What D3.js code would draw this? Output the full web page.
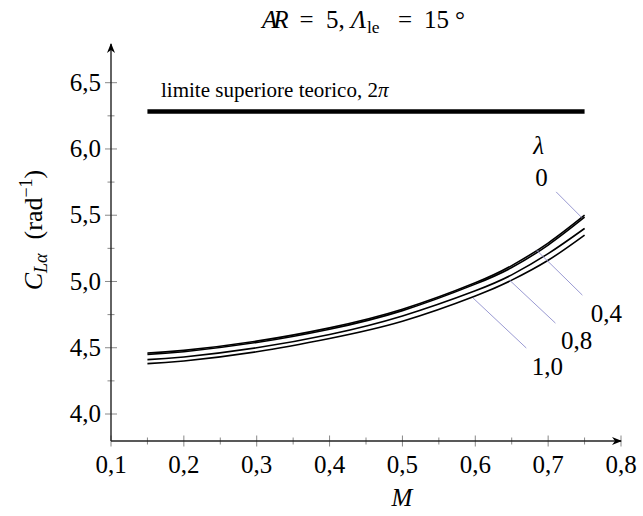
<!DOCTYPE html>
<html><head><meta charset="utf-8">
<script src="https://cdn.jsdelivr.net/npm/d3@7"></script>
<style>body{margin:0;background:#fff}</style>
</head><body><svg id="c" width="643" height="516">
<text id="title" y="28" font-size="25" font-family="Liberation Serif"><tspan x="262" font-style="italic" letter-spacing="-4">AR</tspan><tspan x="299.5">=</tspan><tspan x="326">5,</tspan><tspan x="351" font-style="italic">Λ</tspan><tspan x="367" font-size="17.5" dy="5">le</tspan><tspan x="398" dy="-5">=</tspan><tspan x="424">15</tspan><tspan x="455">°</tspan></text>
<text id="ylab" transform="translate(42,230) rotate(-90)" text-anchor="middle" font-size="26" font-family="Liberation Serif"><tspan font-style="italic">C</tspan><tspan font-style="italic" font-size="18" dy="5">Lα</tspan><tspan dy="-5" dx="14">(rad</tspan><tspan font-size="18" dy="-10">−1</tspan><tspan dy="10">)</tspan></text>
<text id="xlab" x="402" y="506" text-anchor="middle" font-size="25" font-style="italic" font-family="Liberation Serif">M</text>
</svg>
<script>
const machValues = [0.15, 0.2, 0.3, 0.4, 0.5, 0.6, 0.65, 0.7, 0.75];
const taperRatios = ["0", "0,4", "0,8", "1,0"];
const clAlpha_l00 = [4.46, 4.48, 4.55, 4.65, 4.79, 4.99, 5.12, 5.29, 5.50];
const clAlpha_l04 = [4.45, 4.47, 4.54, 4.64, 4.78, 4.98, 5.105, 5.275, 5.485];
const clAlpha_l08 = [4.41, 4.43, 4.50, 4.60, 4.74, 4.93, 5.05, 5.21, 5.40];
const clAlpha_l10 = [4.38, 4.40, 4.47, 4.57, 4.70, 4.89, 5.01, 5.16, 5.35];
const upperLimit = 2 * Math.PI;
const xMajorTicks = [0.1, 0.2, 0.3, 0.4, 0.5, 0.6, 0.7, 0.8];
const xMinorTicks = [0.15, 0.25, 0.35, 0.45, 0.55, 0.65, 0.75];
const yMajorTicks = [4.0, 4.5, 5.0, 5.5, 6.0, 6.5];
const yMinorTicks = [4.25, 4.75, 5.25, 5.75, 6.25];
// leader lines: [M1, CL1, M2, CL2], label positions [M, CL]
const leaderLines = [[0.711, 5.676, 0.746, 5.483],[0.684, 5.237, 0.747, 4.897],[0.647, 5.01, 0.71, 4.686],[0.597, 4.875, 0.670, 4.498]];
const labelPos = [[0.691, 5.79],[0.780, 4.762],[0.739, 4.558],[0.699, 4.357]];
const lambdaPos = [0.687, 6.03];

const FONT = "Liberation Serif";
const svg = d3.select("#c");
const x = d3.scaleLinear().domain([0.1, 0.8]).range([111, 621]);
const y = d3.scaleLinear().domain([4.0, 6.5]).range([414, 82.7]);
const fmt = v => d3.format(".1f")(v).replace(".", ",");

const defs = svg.append("defs");
defs.append("marker").attr("id","arr").attr("viewBox","0 0 10 10").attr("refX",9).attr("refY",5)
  .attr("markerWidth",10).attr("markerHeight",10).attr("markerUnits","userSpaceOnUse").attr("orient","auto")
  .append("path").attr("d","M0,1 L10,5 L0,9 L3,5 Z").attr("fill","#000");

const x0 = 111, yb = 441;
const g = svg.append("g");
g.selectAll(".xM").data(xMajorTicks).join("line").attr("x1",d=>x(d)).attr("x2",d=>x(d)).attr("y1",yb-5.5).attr("y2",yb+5.5).attr("stroke","#888").attr("stroke-width",1);
g.selectAll(".xm").data(xMinorTicks).join("line").attr("x1",d=>x(d)).attr("x2",d=>x(d)).attr("y1",yb-3.5).attr("y2",yb+3.5).attr("stroke","#888").attr("stroke-width",1);
g.selectAll(".yM").data(yMajorTicks).join("line").attr("y1",d=>y(d)).attr("y2",d=>y(d)).attr("x1",x0-6).attr("x2",x0+6).attr("stroke","#888").attr("stroke-width",1);
g.selectAll(".ym").data(yMinorTicks).join("line").attr("y1",d=>y(d)).attr("y2",d=>y(d)).attr("x1",x0-3.5).attr("x2",x0+3.5).attr("stroke","#888").attr("stroke-width",1);
svg.append("line").attr("x1",x0).attr("y1",yb).attr("x2",x(0.8)).attr("y2",yb).attr("stroke","#222").attr("stroke-width",1.4).attr("marker-end","url(#arr)");
svg.append("line").attr("x1",x0).attr("y1",yb).attr("x2",x0).attr("y2",44).attr("stroke","#222").attr("stroke-width",1.4).attr("marker-end","url(#arr)");

svg.selectAll(".xl").data(xMajorTicks).join("text").attr("x",d=>x(d)).attr("y",473).attr("text-anchor","middle").attr("font-size",25).attr("font-family",FONT).text(fmt);
svg.selectAll(".yl").data(yMajorTicks).join("text").attr("x",101).attr("y",d=>y(d)).attr("dy","0.33em").attr("text-anchor","end").attr("font-size",25).attr("font-family",FONT).text(fmt);

svg.append("line").attr("x1",x(0.15)).attr("x2",x(0.75)).attr("y1",y(upperLimit)).attr("y2",y(upperLimit)).attr("stroke","#000").attr("stroke-width",4.5);
const ul = svg.append("text").attr("x",161).attr("y",97).attr("font-size",21).attr("font-family",FONT);
ul.append("tspan").text("limite superiore teorico, 2");
ul.append("tspan").attr("font-style","italic").text("π");

const series = [clAlpha_l00, clAlpha_l04, clAlpha_l08, clAlpha_l10];
const line = d3.line().x((d,i)=>x(machValues[i])).y(d=>y(d)).curve(d3.curveNatural);
svg.selectAll(".curve").data(series).join("path").attr("d",line).attr("fill","none").attr("stroke","#000").attr("stroke-width",1.6);

svg.selectAll(".lead").data(leaderLines).join("line")
  .attr("x1",d=>x(d[0])).attr("y1",d=>y(d[1])).attr("x2",d=>x(d[2])).attr("y2",d=>y(d[3]))
  .attr("stroke","#9a9ad2").attr("stroke-width",1);
svg.selectAll(".lab").data(labelPos).join("text").attr("x",d=>x(d[0])).attr("y",d=>y(d[1])).attr("dy","0.35em")
  .attr("text-anchor","middle").attr("font-size",25).attr("font-family",FONT).text((d,i)=>taperRatios[i]);
svg.append("text").attr("x",x(lambdaPos[0])).attr("y",y(lambdaPos[1])).attr("dy","0.35em").attr("text-anchor","middle").attr("font-size",25).attr("font-style","italic").attr("font-family",FONT).text("λ");
</script></body></html>
